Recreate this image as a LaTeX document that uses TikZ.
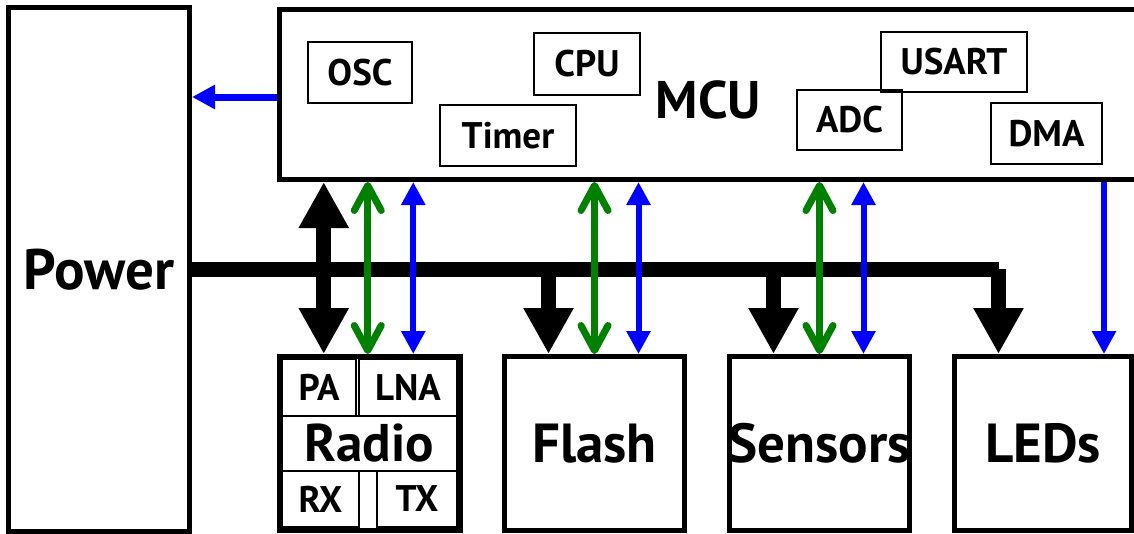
\documentclass[tikz,border=0pt]{standalone}
\usepackage{fontspec}
\setmainfont{PT Sans}
\usetikzlibrary{arrows.meta,positioning}
\definecolor{ctlgreen}{HTML}{008000}
\definecolor{ctlblue}{HTML}{0000FF}

\begin{document}
\begin{tikzpicture}[x=1pt,y=-1pt,
  blk/.style={draw,line width=5pt,inner sep=0pt,minimum width=180pt,minimum height=174pt},
  sub/.style={draw,line width=2pt,inner sep=0pt,minimum height=61pt,font=\fontsize{37}{40}\selectfont\bfseries},
  bigtxt/.style={font=\fontsize{55}{60}\selectfont\bfseries,inner sep=0pt},
  bus/.style={line width=15pt},
  blkhead/.style={-{Triangle[width=47pt,length=46pt]}},
  blkarr/.style={line width=15pt,blkhead},
  blk2/.style={line width=15pt,{Triangle[width=47pt,length=46pt]}-{Triangle[width=47pt,length=46pt]}},
  grnarr/.style={ctlgreen,line width=7pt,{Straight Barb[length=25pt,width=27pt,round]}-{Straight Barb[length=25pt,width=27pt,round]}},
  bluarr/.style={ctlblue,line width=6pt,-{Triangle[width=23pt,length=23pt]}},
  blu2/.style={ctlblue,line width=6pt,{Triangle[width=23pt,length=23pt]}-{Triangle[width=23pt,length=23pt]}}]
  \useasboundingbox (0,0) rectangle (1134,533);

  % power and mcu
  \node[blk,minimum width=181pt,minimum height=523.5pt,bigtxt,font=\fontsize{57}{60}\selectfont\bfseries] (power) at (99,269.25) {Power};
  \node[blk,minimum width=866pt,minimum height=170pt] (mcu) at (712.5,94.5) {};
  \node[bigtxt,font=\fontsize{53}{60}\selectfont\bfseries,anchor=base] (mcuname) at (708.5,118) {MCU};

  % blocks inside the mcu
  \node[sub,minimum width=104pt] (osc) at (360,72.5) {OSC};
  \node[sub,minimum width=106pt,minimum height=62pt] (cpu) at (587,64) {CPU};
  \node[sub,minimum width=136pt] (timer) at (508,135.5) {Timer};
  \node[sub,minimum width=146pt,minimum height=60pt] (usart) at (954,62) {USART};
  \node[sub,minimum width=105pt,minimum height=60pt] (adc) at (849.5,120) {ADC};
  \node[sub,minimum width=111pt] (dma) at (1046.5,133.5) {DMA};

  % peripherals
  \node[blk,minimum width=180.5pt] (radio) at (369.75,443.5) {};
  \node[blk,label={[bigtxt]center:Flash}] (flash) at (594.5,443.5) {};
  \node[blk,label={[bigtxt]center:Sensors}] (sensors) at (819.5,443.5) {};
  \node[blk,minimum width=177pt,label={[bigtxt]center:LEDs}] (leds) at (1043,443.5) {};

  % radio parts
  \node[sub,minimum width=74pt,minimum height=57pt] (pa) at (319,387.5) {PA};
  \node[sub,minimum width=98pt,minimum height=57pt] (lna) at (408,387.5) {LNA};
  \node[sub,minimum width=175pt,minimum height=55pt,font=\fontsize{53}{56}\selectfont\bfseries] (radioname) at (369.5,443.5) {Radio};
  \node[sub,minimum width=77pt,minimum height=56pt] (rx) at (320.5,499) {RX};
  \node[sub,minimum width=80pt,minimum height=56pt] (tx) at (417,499) {TX};

  % power bus
  \coordinate (busend) at ([xshift=-44.5pt]leds.north |- power.east);
  \draw[bus] (power.east) -- (busend);
  \draw[blkarr] (busend) -- ([xshift=-44.5pt]leds.north);
  \draw[blkarr] ([xshift=-46pt]flash.north |- power.east) -- ([xshift=-46pt]flash.north);
  \draw[blkarr] ([xshift=-46pt]sensors.north |- power.east) -- ([xshift=-46pt]sensors.north);
  \draw[blk2] ([xshift=-46pt]radio.north |- mcu.south) -- ([xshift=-46pt]radio.north);

  % data and control lines
  \draw[grnarr] ([xshift=-2pt]radio.north |- mcu.south) -- ([xshift=-2pt]radio.north);
  \draw[grnarr] (flash.north |- mcu.south) -- (flash.north);
  \draw[grnarr] (sensors.north |- mcu.south) -- (sensors.north);
  \draw[blu2] ([xshift=43.5pt]radio.north |- mcu.south) -- ([xshift=43.5pt]radio.north);
  \draw[blu2] ([xshift=44pt]flash.north |- mcu.south) -- ([xshift=44pt]flash.north);
  \draw[blu2] ([xshift=44pt]sensors.north |- mcu.south) -- ([xshift=44pt]sensors.north);
  \draw[bluarr] ([xshift=61pt]leds.north |- mcu.south) -- ([xshift=61pt]leds.north);
  \draw[bluarr,line width=7pt] ([yshift=-2.5pt]mcu.west) -- ([yshift=-2.5pt]mcu.west -| power.east);
\end{tikzpicture}
\end{document}
